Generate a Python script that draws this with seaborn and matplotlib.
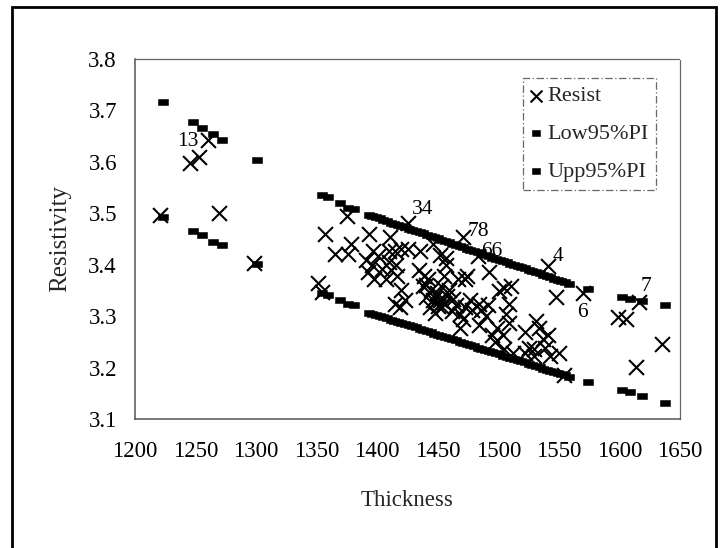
import matplotlib
matplotlib.use("Agg")
import matplotlib.pyplot as plt
from matplotlib.patches import Rectangle
import seaborn as sns
import pandas as pd

# Observations: film thickness vs. resistivity
resist_x = [1221, 1245, 1253, 1269.5, 1298, 1351, 1354, 1357, 1365, 1375, 1376, 1378,
            1393, 1396.5, 1390.8, 1395.7, 1392.7, 1397.3, 1400.3, 1404.1,
            1410.9, 1409.8, 1414.7, 1409.8, 1411.7, 1407.1, 1415.5, 1416.2, 1419.3, 1425.0,
            1420.0, 1423.1, 1418.5, 1414.7,
            1435.2, 1434.4, 1439.0, 1442.0, 1438.2, 1440.1, 1445.8, 1443.9, 1449.6, 1451.5,
            1447.7, 1453.4, 1452.7, 1455.3, 1456.4, 1445.8, 1451.5, 1457.2,
            1459.1, 1462.9, 1464.8, 1468.6, 1470.5, 1472.4, 1466.7, 1472.4, 1474.3, 1468.6,
            1476.2, 1478.1,
            1483.8, 1485.7, 1491.4, 1489.5, 1492.1, 1494.4, 1497.0, 1498.9, 1483.8,
            1500.8, 1504.6, 1510.3, 1508.4, 1506.5, 1508.4, 1503.5, 1504.6, 1512.2,
            1521.7, 1525.5, 1529.3, 1531.2, 1533.8, 1536.9, 1538.8, 1540.7, 1542.6, 1550.2,
            1553.9, 1521.7, 1529.3,
            1448, 1455, 1458, 1450, 1462, 1444, 1440,
            1547.5, 1599, 1605.5, 1614, 1635.5]
resist_y = [3.497, 3.598, 3.610, 3.500, 3.404, 3.365, 3.346, 3.459, 3.421, 3.494, 3.421, 3.440,
            3.459, 3.426, 3.409, 3.399, 3.385, 3.372, 3.416, 3.392,
            3.453, 3.426, 3.426, 3.406, 3.389, 3.372, 3.399, 3.379, 3.430, 3.430,
            3.351, 3.331, 3.317, 3.324,
            3.427, 3.389, 3.379, 3.372, 3.358, 3.338, 3.331, 3.317, 3.345, 3.331,
            3.307, 3.317, 3.358, 3.379, 3.399, 3.440, 3.419, 3.413,
            3.351, 3.334, 3.321, 3.304, 3.294, 3.317, 3.372, 3.372, 3.379, 3.277,
            3.331, 3.311,
            3.324, 3.311, 3.321, 3.300, 3.385, 3.263, 3.249, 3.277, 3.283,
            3.348, 3.355, 3.358, 3.324, 3.304, 3.287, 3.263, 3.236, 3.229,
            3.270, 3.239, 3.236, 3.290, 3.277, 3.256, 3.239, 3.263, 3.222, 3.229,
            3.185, 3.229, 3.222,
            3.335, 3.325, 3.340, 3.320, 3.310, 3.350, 3.360,
            3.338, 3.298, 3.294, 3.202, 3.246]

# Flagged observations (observation number, thickness, resistivity)
flag_ids = ["13", "34", "78", "66", "4", "6", "7"]
flag_x = [1260, 1425, 1470.6, 1483, 1541, 1569.5, 1616]
flag_y = [3.643, 3.481, 3.454, 3.416, 3.398, 3.345, 3.328]

# 95% prediction interval bounds
band_x = [1223, 1248, 1255.5, 1264, 1271.5, 1301, 1354, 1359, 1369, 1376, 1380.5,
          1393, 1396, 1399, 1402, 1405, 1408, 1411, 1414, 1417, 1420, 1423, 1426, 1429,
          1432, 1435, 1438, 1441, 1444, 1447, 1450, 1453, 1456, 1459, 1462, 1465, 1468,
          1471, 1474, 1477, 1480, 1483, 1486, 1489, 1492, 1495, 1498, 1501, 1504, 1507,
          1510, 1513, 1516, 1519, 1522, 1525, 1528, 1531, 1534, 1537, 1540, 1543, 1546,
          1549, 1552, 1555, 1558, 1574, 1602, 1609, 1619, 1638]
upp_y = [3.717, 3.678, 3.665, 3.654, 3.642, 3.603, 3.535, 3.531, 3.520, 3.511, 3.509,
         3.497, 3.495, 3.492, 3.490, 3.487, 3.485, 3.482, 3.480, 3.478, 3.475, 3.473, 3.470, 3.468,
         3.465, 3.463, 3.461, 3.458, 3.456, 3.453, 3.451, 3.448, 3.446, 3.444, 3.441, 3.439, 3.436,
         3.434, 3.431, 3.429, 3.427, 3.424, 3.422, 3.419, 3.417, 3.414, 3.412, 3.410, 3.407, 3.405,
         3.402, 3.400, 3.397, 3.395, 3.393, 3.390, 3.388, 3.385, 3.383, 3.380, 3.378, 3.376, 3.373,
         3.371, 3.368, 3.366, 3.363, 3.353, 3.338, 3.333, 3.330, 3.321]
low_y = [3.493, 3.465, 3.457, 3.445, 3.438, 3.401, 3.345, 3.341, 3.332, 3.324, 3.321,
         3.307, 3.305, 3.302, 3.300, 3.298, 3.296, 3.293, 3.291, 3.289, 3.287, 3.284, 3.282, 3.280,
         3.278, 3.275, 3.273, 3.271, 3.269, 3.266, 3.264, 3.262, 3.259, 3.257, 3.255, 3.253, 3.250,
         3.248, 3.246, 3.244, 3.241, 3.239, 3.237, 3.235, 3.232, 3.230, 3.228, 3.226, 3.223, 3.221,
         3.219, 3.216, 3.214, 3.212, 3.210, 3.207, 3.205, 3.203, 3.201, 3.198, 3.196, 3.194, 3.192,
         3.189, 3.187, 3.185, 3.182, 3.171, 3.156, 3.153, 3.144, 3.132]

x_ticks = [1200, 1250, 1300, 1350, 1400, 1450, 1500, 1550, 1600, 1650]
y_ticks = [3.1, 3.2, 3.3, 3.4, 3.5, 3.6, 3.7, 3.8]

sns.set_theme(style="white")
plt.rcParams["font.family"] = ["Liberation Serif", "DejaVu Serif"]

fig = plt.figure(figsize=(7.22, 5.48), dpi=100)
ax = fig.add_axes([135 / 722, 1 - 419 / 548, 545 / 722, 360 / 548])

obs = pd.DataFrame({"Thickness": resist_x + flag_x, "Resistivity": resist_y + flag_y})
low = pd.DataFrame({"Thickness": band_x, "Resistivity": low_y})
upp = pd.DataFrame({"Thickness": band_x, "Resistivity": upp_y})

bar_marker = [(-1, -0.7), (1, -0.7), (1, 0.7), (-1, 0.7), (-1, -0.7)]

sns.scatterplot(data=upp, x="Thickness", y="Resistivity", ax=ax, marker=bar_marker,
                s=48, color="black", edgecolor="black", linewidth=0.4,
                label="Upp95%PI", zorder=3)
sns.scatterplot(data=low, x="Thickness", y="Resistivity", ax=ax, marker=bar_marker,
                s=48, color="black", edgecolor="black", linewidth=0.4,
                label="Low95%PI", zorder=3)
sns.scatterplot(data=obs, x="Thickness", y="Resistivity", ax=ax, marker="x",
                s=115, color="black", linewidth=1.5, label="Resist", zorder=4)

offsets = {"13": (-14, -1.5), "34": (11, 9.5), "78": (11, 3.6), "66": (10, 3.6),
           "4": (7, 6.5), "6": (0, -13.7), "7": (5, 10.8)}
for lab, xv, yv in zip(flag_ids, flag_x, flag_y):
    ax.annotate(lab, (xv, yv), xytext=offsets[lab], textcoords="offset points",
                ha="center", va="center", fontsize=15.5, color="black", zorder=5)

ax.set_xlim(1200, 1650)
ax.set_ylim(3.1, 3.8)
ax.set_xticks(x_ticks)
ax.set_yticks(y_ticks)
ax.set_xticklabels([str(t) for t in x_ticks])
ax.set_yticklabels([f"{t:.1f}" for t in y_ticks])
ax.tick_params(axis="both", labelsize=16.5, colors="black", length=3, width=0.8,
               direction="out")
ax.tick_params(axis="x", pad=13)
ax.tick_params(axis="y", pad=10)
for t in ax.get_xticklines() + ax.get_yticklines():
    t.set_color("#555555")

ax.set_xlabel("Thickness", fontsize=16.5, labelpad=20)
ax.set_ylabel("Resistivity", fontsize=18, labelpad=12)

for side in ["left", "bottom"]:
    ax.spines[side].set_color("#555555")
    ax.spines[side].set_linewidth(1.1)
for side in ["top", "right"]:
    ax.spines[side].set_color("#666666")
    ax.spines[side].set_linewidth(0.9)
    ax.spines[side].set_linestyle((0, (1, 1)))

handles, labels = ax.get_legend_handles_labels()
order = [labels.index(n) for n in ["Resist", "Low95%PI", "Upp95%PI"]]
leg = ax.legend([handles[i] for i in order], [labels[i] for i in order],
                loc="upper left", bbox_to_anchor=(523 / 722, 1 - 78 / 548),
                bbox_transform=fig.transFigure, borderaxespad=0, fontsize=16,
                frameon=True, fancybox=False, handlelength=0.5, handletextpad=0.25,
                labelspacing=0.78, borderpad=0.35, markerscale=0.8)
frame = leg.get_frame()
frame.set_edgecolor("#444444")
frame.set_linewidth(0.9)
frame.set_linestyle((0, (6, 2, 1, 2)))

# outer chart-area border
fig.patches.append(Rectangle((12 / 722, -0.02), 704 / 722, 1.02 - 7 / 548,
                             transform=fig.transFigure, fill=False,
                             edgecolor="black", linewidth=2))

fig.savefig("out.png", dpi=100)
